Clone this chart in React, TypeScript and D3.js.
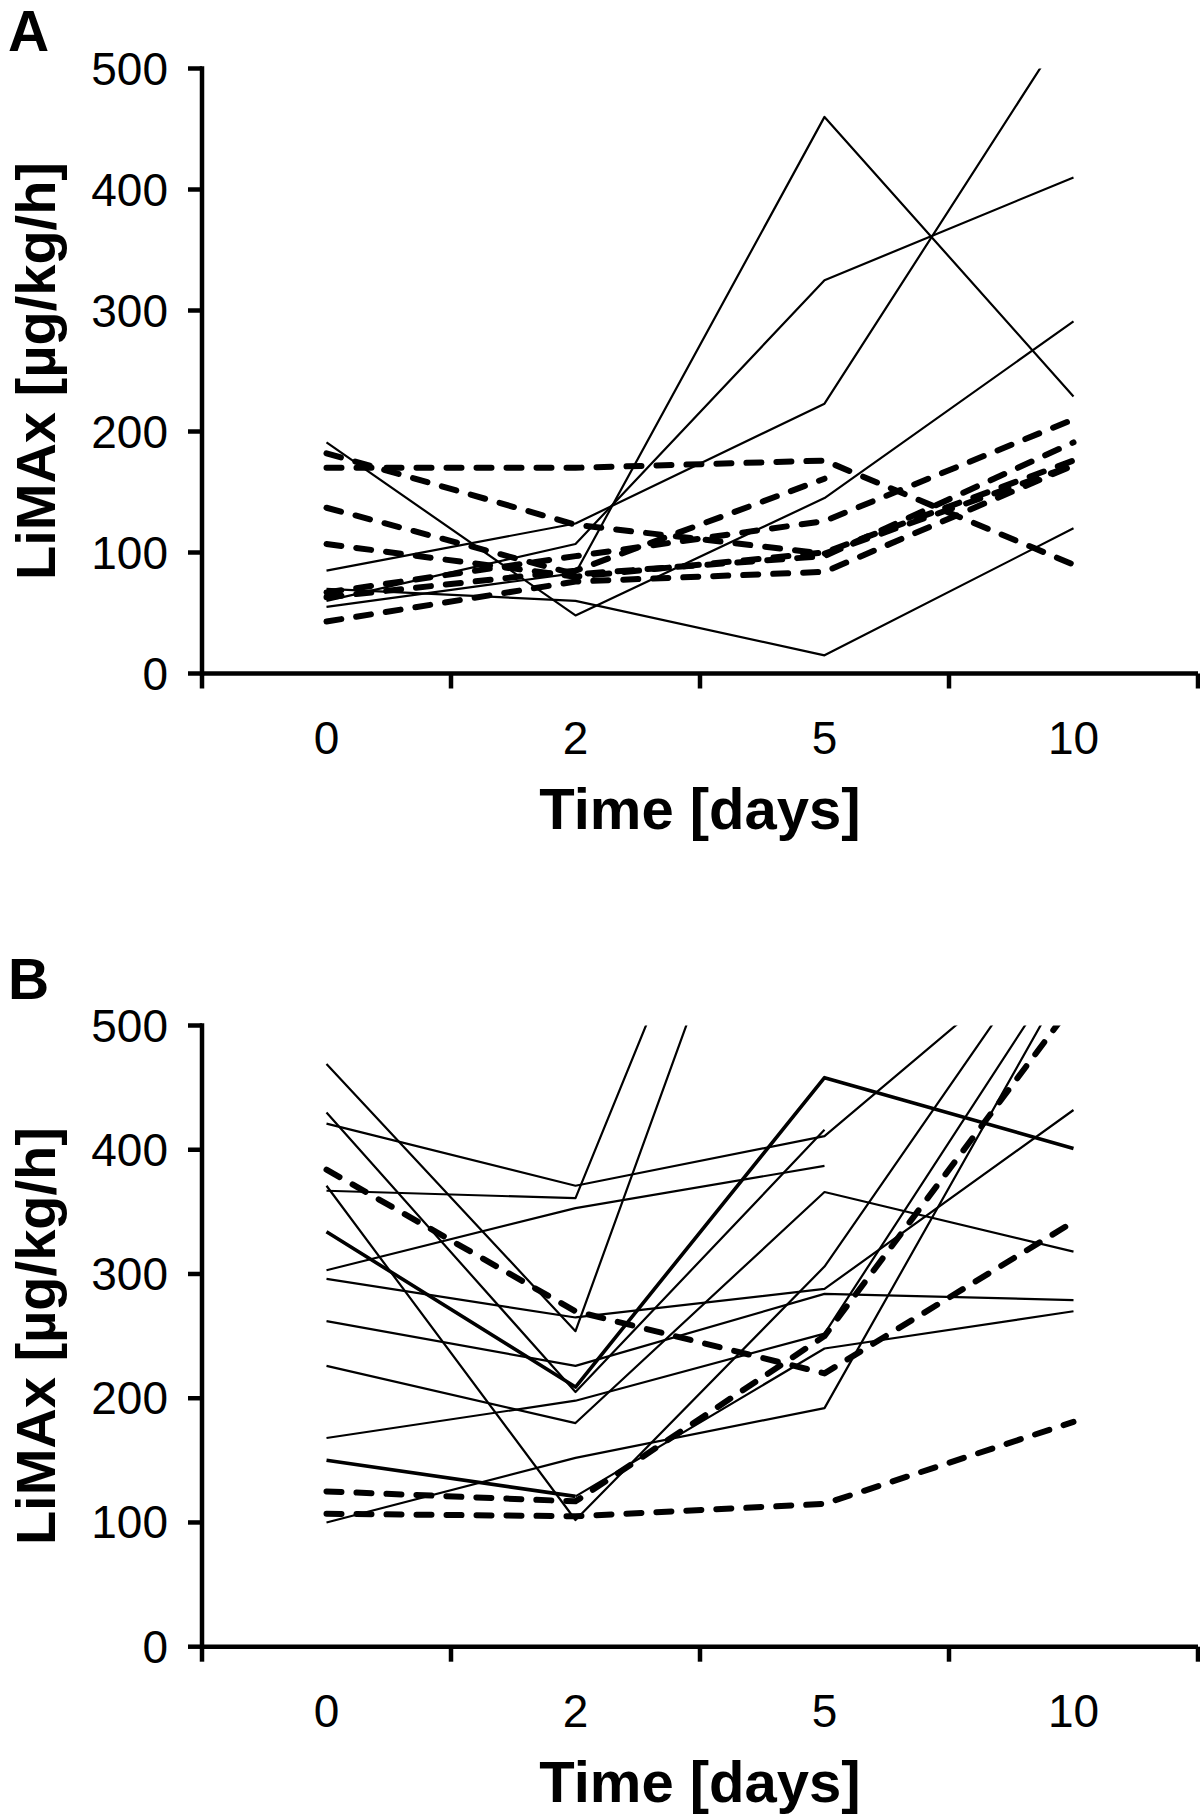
import React from "react";
import * as d3 from "d3";

const categories = ["0", "2", "5", "10"];
const yTicks = [0, 100, 200, 300, 400, 500];

// Panel A
const aThin: (number | null)[][] = [
  [191, 48, 145, 291],
  [60, 107, 325, 410],
  [55, 83, 460, 229],
  [70, 60, 15, 120],
  [85, 124, 223, 543],
];
const aThick: (number | null)[][] = [];
const aDashed: (number | null)[][] = [
  [170, 170, 176, 90],
  [182, 123, 99, 172],
  [137, 82, 97, 191],
  [107, 80, 100, 176],
  [67, 97, 126, 210],
  [63, 85, 161, null],
  [43, 76, 84, 172],
];

// Panel B
const bThin: (number | null)[][] = [
  [469, 254, 807, 900],
  [421, 371, 411, 580],
  [367, 361, 852, 900],
  [303, 353, 387, null],
  [296, 265, 288, 432],
  [262, 226, 284, 279],
  [226, 180, 366, 318],
  [168, 198, 252, 560],
  [100, 152, 192, 547],
  [430, 205, 416, null],
  [371, 102, 306, 595],
  [null, 121, 240, 270],
];
const bThick: (number | null)[][] = [
  [334, 209, 458, 401],
  [150, 121, null, null],
];
const bDashed: (number | null)[][] = [
  [384, 270, 220, 342],
  [125, 117, 250, 518],
  [107, 105, 115, 181],
];

const FONT = "'Liberation Sans', Arial, Helvetica, sans-serif";

type PanelProps = {
  id: string;
  letter: string;
  top: number;
  bottom: number;
  letterY: number;
  thin: (number | null)[][];
  thick: (number | null)[][];
  dashed: (number | null)[][];
};

function Panel({ id, letter, top, bottom, letterY, thin, thick, dashed }: PanelProps) {
  const left = 202;
  const right = 1198;
  const x = d3.scaleBand<string>().domain(categories).range([left, right]).padding(0);
  const y = d3.scaleLinear().domain([0, 500]).range([bottom, top]);
  const bw = x.bandwidth();
  const line = d3
    .line<number | null>()
    .defined((d) => d != null)
    .x((_, i) => (x(categories[i]) as number) + bw / 2)
    .y((d) => y(d as number));
  const boundaries = categories.map((c) => x(c) as number).concat([right]);
  const clipId = `clip-${id}`;
  const midY = (top + bottom) / 2;
  return (
    <g>
      <defs>
        <clipPath id={clipId}>
          <rect x={left} y={top} width={right - left} height={bottom - top} />
        </clipPath>
      </defs>
      <text x={8} y={letterY} fontFamily={FONT} fontWeight="bold" fontSize={57} fill="#000">
        {letter}
      </text>
      <g clipPath={`url(#${clipId})`} fill="none" stroke="#000" strokeLinejoin="round">
        {thin.map((s, i) => (
          <path key={`t${i}`} d={line(s) || ""} strokeWidth={2.2} />
        ))}
        {thick.map((s, i) => (
          <path key={`k${i}`} d={line(s) || ""} strokeWidth={3.6} />
        ))}
        {dashed.map((s, i) => (
          <path
            key={`d${i}`}
            d={line(s) || ""}
            strokeWidth={6}
            strokeDasharray="15,15"
            strokeLinecap="round"
          />
        ))}
      </g>
      {/* y axis */}
      <line x1={left} x2={left} y1={top} y2={bottom} stroke="#000" strokeWidth={4.5} strokeLinecap="square" />
      {yTicks.map((t) => (
        <g key={t}>
          <line x1={left - 14} x2={left} y1={y(t)} y2={y(t)} stroke="#000" strokeWidth={4.5} />
          <text
            x={168}
            y={y(t) + 16}
            textAnchor="end"
            fontFamily={FONT}
            fontSize={46}
            fill="#000"
          >
            {t}
          </text>
        </g>
      ))}
      {/* x axis */}
      <line x1={left} x2={right} y1={bottom} y2={bottom} stroke="#000" strokeWidth={4.5} />
      {boundaries.map((b, i) => (
        <line key={i} x1={b} x2={b} y1={bottom} y2={bottom + 15} stroke="#000" strokeWidth={4.5} />
      ))}
      {categories.map((c) => (
        <text
          key={c}
          x={(x(c) as number) + bw / 2}
          y={bottom + 80}
          textAnchor="middle"
          fontFamily={FONT}
          fontSize={46}
          fill="#000"
        >
          {c}
        </text>
      ))}
      <text
        x={(left + right) / 2}
        y={bottom + 155}
        textAnchor="middle"
        fontFamily={FONT}
        fontWeight="bold"
        fontSize={58}
        fill="#000"
      >
        Time [days]
      </text>
      <text
        transform={`translate(55,${midY}) rotate(-90)`}
        textAnchor="middle"
        fontFamily={FONT}
        fontWeight="bold"
        fontSize={56}
        fill="#000"
      >
        LiMAx [µg/kg/h]
      </text>
    </g>
  );
}

export default function App() {
  return (
    <svg
      width={1200}
      height={1815}
      viewBox="0 0 1200 1815"
      style={{ position: "absolute", left: 0, top: 0, background: "#fff" }}
    >
      <rect width={1200} height={1815} fill="#fff" />
      <Panel id="a" letter="A" top={68.5} bottom={673.5} letterY={51} thin={aThin} thick={aThick} dashed={aDashed} />
      <Panel id="b" letter="B" top={1025.5} bottom={1646.7} letterY={999} thin={bThin} thick={bThick} dashed={bDashed} />
    </svg>
  );
}
